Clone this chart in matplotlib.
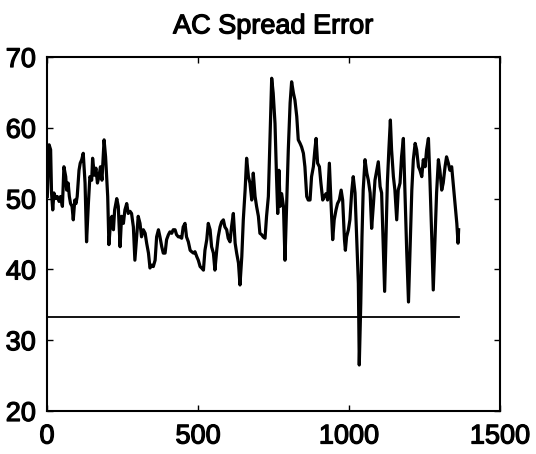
import matplotlib
matplotlib.use('Agg')
import matplotlib.pyplot as plt
import matplotlib.patheffects as pe

# spread error trace
x_vals = [1, 7, 12, 15, 19, 23, 29, 34, 40, 45, 51, 56, 62, 65, 70, 74, 78, 83, 87, 92,
          96, 100, 106, 110, 115, 120, 126, 131, 137, 142, 148, 151, 157, 162, 167, 172, 177, 182, 189, 194,
          201, 205, 211, 215, 220, 224, 231, 236, 242, 247, 253, 258, 264, 269, 275, 280, 286, 291, 297, 302,
          308, 313, 319, 325, 330, 336, 341, 347, 352, 358, 363, 369, 374, 380, 385, 391, 396, 402, 407, 413,
          418, 424, 429, 435, 440, 446, 451, 457, 462, 468, 474, 479, 485, 490, 496, 501, 507,
          512, 518, 523, 529, 534, 540, 545, 551, 556, 562, 567, 573, 578, 584, 589, 595, 600, 606, 611,
          617, 623, 628, 634, 639, 645, 650, 656, 661, 667, 672, 678, 683, 689, 694, 700, 705, 711, 716,
          722, 727, 733, 738, 744, 749, 755, 760, 764, 768, 772, 777, 783, 788, 794, 799, 805, 810, 816,
          821, 827, 832, 838, 843, 849, 854, 860, 865, 871, 876, 882, 887, 891, 896, 902, 907, 913, 918,
          924, 929, 935, 940, 946, 951, 957, 962, 968, 974, 979, 985, 988, 992, 998, 1003,
          1009, 1014, 1020, 1025, 1031, 1034, 1039, 1043, 1047, 1053, 1059, 1064, 1070, 1075, 1081, 1086,
          1092, 1097, 1103, 1108, 1114, 1118, 1123, 1127, 1132, 1137, 1141, 1147, 1152, 1158, 1163, 1169,
          1174, 1180, 1185, 1191, 1197, 1202, 1208, 1213, 1219, 1224, 1230, 1235, 1241, 1246, 1252, 1257,
          1263, 1268, 1274, 1279, 1285, 1290, 1296, 1301, 1307, 1312, 1318, 1323, 1329, 1334, 1340, 1346,
          1351, 1357, 1361, 1363]
y_vals = [50.3, 57.6, 56.9, 50.8, 48.4, 50.8, 50.0, 50.3, 49.6, 50.3, 48.9, 54.5, 53.1, 51.2, 52.2, 50.3, 49.3, 48.9, 47.0, 49.8,
          49.3, 50.3, 54.0, 55.0, 55.5, 56.4, 52.2, 43.9, 49.3, 53.1, 52.6, 55.7, 53.3, 54.3, 52.2, 53.1, 54.5, 52.6, 58.3, 55.9,
          50.3, 43.5, 47.0, 47.5, 45.6, 48.4, 50.0, 48.9, 43.2, 47.5, 46.5, 48.4, 49.3, 47.9, 48.2, 47.9, 46.0, 41.3, 44.6, 47.5,
          46.5, 44.6, 45.6, 45.1, 43.7, 42.3, 40.2, 40.6, 40.4, 41.3, 44.6, 45.6, 44.6, 43.2, 42.3, 42.3, 44.2, 44.9, 45.3, 45.1,
          45.6, 45.6, 44.9, 44.6, 44.6, 44.4, 46.0, 46.5, 44.6, 43.9, 42.7, 42.5, 42.3, 42.5, 41.8, 41.3, 40.4,
          40.2, 39.9, 42.7, 44.2, 46.5, 45.6, 43.2, 42.3, 39.9, 42.7, 44.6, 46.0, 46.7, 47.0, 46.0, 45.6, 44.4, 43.9, 46.0,
          47.9, 43.7, 42.3, 40.9, 37.8, 41.8, 47.0, 51.2, 55.7, 53.1, 52.2, 49.8, 53.6, 50.3, 48.9, 47.5, 45.1, 44.9, 44.6,
          44.4, 47.5, 50.3, 57.8, 67.0, 64.9, 60.6, 53.1, 47.9, 54.0, 48.9, 50.7, 48.9, 41.3, 49.8, 56.9, 63.5, 66.5, 64.9,
          63.9, 61.6, 58.3, 57.8, 57.3, 56.4, 54.5, 50.3, 49.8, 49.8, 53.1, 54.5, 56.9, 58.5, 55.0, 54.5, 52.2, 49.8, 50.3,
          50.7, 49.8, 55.0, 49.8, 44.2, 47.0, 48.4, 49.3, 49.8, 51.2, 49.8, 44.2, 42.7, 44.6, 45.6, 47.0,
          51.0, 53.1, 50.8, 45.1, 38.0, 26.5, 35.2, 44.6, 51.2, 55.5, 53.6, 52.6, 50.8, 45.8, 49.3, 52.6,
          54.0, 55.2, 51.7, 50.8, 42.7, 36.9, 45.1, 52.2, 56.9, 61.1, 56.9, 53.1, 51.2, 47.0, 51.2, 52.2,
          55.9, 58.5, 51.2, 42.7, 35.4, 42.7, 51.2, 55.5, 57.8, 56.9, 54.5, 54.0, 53.1, 55.5, 54.5, 56.9,
          58.5, 52.6, 44.6, 37.1, 44.6, 50.8, 55.5, 54.0, 51.2, 52.2, 54.5, 55.9, 55.0, 54.0, 54.5, 51.7,
          49.3, 46.5, 43.7, 45.6]

# threshold line
thresh_x = [0, 1364]
thresh_y = [33.3, 33.3]

x_ticks = [0, 500, 1000, 1500]
y_ticks = [20, 30, 40, 50, 60, 70]

plt.rcParams['font.family'] = ['Liberation Sans', 'DejaVu Sans']

fig = plt.figure(figsize=(5.36, 4.54), dpi=100)
ax = fig.add_axes([47 / 536, 1 - 411 / 454, 453 / 536, 354 / 454])

ax.plot(x_vals, y_vals, color='black', linewidth=2.3)
ax.plot(thresh_x, thresh_y, color='black', linewidth=1.3)

ax.set_xlim(0, 1500)
ax.set_ylim(20, 70)
ax.set_xticks(x_ticks)
ax.set_yticks(y_ticks)
ax.tick_params(direction='in', length=4, width=1, top=True, right=True, labelsize=19.5)
ax.tick_params(axis='x', pad=9)
ax.tick_params(axis='y', pad=8)

# scanned helvetica looks a bit heavier than regular
heavy = [pe.withStroke(linewidth=0.9, foreground='black')]
for lbl in ax.get_xticklabels() + ax.get_yticklabels():
    lbl.set_path_effects(heavy)
for s in ax.spines.values():
    s.set_linewidth(1.5)

ax.set_title('AC Spread Error', fontsize=19.5, pad=17, path_effects=heavy)

fig.savefig('out.png', dpi=100)
